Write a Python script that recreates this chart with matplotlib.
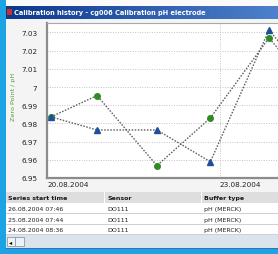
import matplotlib
matplotlib.use("Agg")
import matplotlib.pyplot as plt
import matplotlib.dates as mdates
from matplotlib.patches import Rectangle
import pandas as pd

W, H = 278, 255

# ---- data ----
times = ["2004-08-20 01:40", "2004-08-20 20:50", "2004-08-21 21:45",
         "2004-08-22 20:00", "2004-08-23 20:25", "2004-08-24 08:36"]
zero_point_tri = [6.9836, 6.9764, 6.9764, 6.9589, 7.0314, 7.012]
zero_point_circ = [6.9836, 6.9953, 6.9568, 6.9830, 7.0270, 7.008]
x_range = ["2004-08-20 00:00", "2004-08-24 00:09"]
x_ticks = ["2004-08-20", "2004-08-23"]
x_tick_labels = ["20.08.2004", "23.08.2004"]
y_ticks = [6.95, 6.96, 6.97, 6.98, 6.99, 7.00, 7.01, 7.02, 7.03]
y_tick_labels = ["6.95", "6.96", "6.97", "6.98", "6.99", "7", "7.01", "7.02", "7.03"]
y_range = [6.95, 7.0352]
title = "Calibration history - cg006 Calibration pH electrode"
ylabel = "Zero Point / pH"
table_cols = ["Series start time", "Sensor", "Buffer type"]
table_start = ["26.08.2004 07:46", "25.08.2004 07:44", "24.08.2004 08:36"]
table_sensor = ["DO111", "DO111", "DO111"]
table_buffer = ["pH (MERCK)", "pH (MERCK)", "pH (MERCK)"]

fig = plt.figure(figsize=(W / 100, H / 100), dpi=100)
fig.patch.set_facecolor("#f4f4f4")


def fx(x):
    return x / W


def fy(y):
    return 1 - y / H


def rect(x0, y0, x1, y1, color, z=0, **kw):
    fig.add_artist(Rectangle((fx(x0), fy(y1)), fx(x1) - fx(x0), fy(y0) - fy(y1),
                             transform=fig.transFigure, facecolor=color,
                             edgecolor=kw.pop("ec", "none"), lw=kw.pop("lw", 0),
                             zorder=z, **kw))


def text(x, y, s, size=5.5, color="black", weight="normal", ha="left", **kw):
    fig.text(fx(x), fy(y), s, fontsize=size, color=color, weight=weight,
             ha=ha, va="center", family="DejaVu Sans", **kw)


# window chrome
rect(0, 0, W, 7, "#fafafa", z=0)
rect(0, 0, 6, H, "#1ca3e3", z=5)
# title bar gradient
n = 60
for i in range(n):
    x0 = 6 + (W - 6) * i / n
    x1 = 6 + (W - 6) * (i + 1) / n + 0.5
    t = i / (n - 1)
    c = (0.05 + 0.25 * t, 0.22 + 0.28 * t, 0.55 + 0.25 * t)
    rect(x0, 7, x1, 20, c, z=1)
rect(7, 10, 12, 16, "#c83030", z=2)
text(13.5, 13.5, title, size=4.8, color="white", weight="bold")

# ---- chart ----
ax_left, ax_top, ax_bottom = 47, 24, 179
ax = fig.add_axes([fx(ax_left), fy(ax_bottom), 1 - fx(ax_left), fy(ax_top) - fy(ax_bottom)])
ax.set_facecolor("white")
t = pd.to_datetime(times)
ax.plot(t, zero_point_circ, linestyle=(0, (1.1, 1.1)), color="#5e5e5e", lw=1.0,
        marker="o", ms=4.0, mfc="#2f8a25", mec="#2f8a25", zorder=3, clip_on=True)
ax.plot(t, zero_point_tri, linestyle=(0, (1.1, 1.1)), color="#5e5e5e", lw=1.0,
        marker="^", ms=4.8, mfc="#1d4f9e", mec="#1d4f9e", zorder=4, clip_on=True)

ax.set_xlim(pd.to_datetime(x_range[0]), pd.to_datetime(x_range[1]))
ax.set_ylim(*y_range)
ax.set_xticks(pd.to_datetime(x_ticks))
ax.set_xticklabels(x_tick_labels, ha="left", fontsize=5.2, family="DejaVu Sans", color="#222222")
ax.set_yticks(y_ticks)
ax.set_yticklabels(y_tick_labels, fontsize=5.2, family="DejaVu Sans", color="#222222")
ax.tick_params(length=0)
ax.tick_params(axis="y", pad=7.0)
ax.tick_params(axis="x", pad=2.5)
ax.grid(True, linestyle=(0, (1.0, 1.5)), color="#c4c4c4", lw=0.7)
ax.spines["right"].set_visible(False)
ax.spines["left"].set_color("#8c8c8c")
ax.spines["left"].set_linewidth(1.6)
ax.spines["bottom"].set_color("#8c8c8c")
ax.spines["bottom"].set_linewidth(1.6)
ax.spines["top"].set_color("#a8a8a8")
ax.spines["top"].set_linewidth(0.8)
ax.set_ylabel(ylabel, fontsize=4.6, color="#5b9a35", family="DejaVu Sans")
ax.yaxis.set_label_coords(fx(16 - ax_left) / (1 - fx(ax_left)), 0.53)

# ---- table ----
col_x = [7, 106, 203]
rect(6, 193, W, 204, "#dedede", z=1)
for cx, cname in zip(col_x, table_cols):
    text(cx + 1, 198.5, cname, size=4.5, weight="bold", color="#1a1a1a")
for cx in col_x[1:]:
    rect(cx - 2, 193, cx - 1.5, 204, "#ffffff", z=2)
row_tops = [204, 215, 225]
for i, r in enumerate(row_tops):
    rect(6, r, W, r + 10.5, "white", z=1)
    rect(6, r + 10.3, W, r + 10.8, "#d0d0d0", z=2)
    text(col_x[0] + 1, r + 5.5, table_start[i], size=4.5, color="#222222")
    text(col_x[1] + 1, r + 5.5, table_sensor[i], size=4.5, color="#222222")
    text(col_x[2] + 1, r + 5.5, table_buffer[i], size=4.5, color="#222222")
# scrollbar
rect(6, 236, W, 249, "#dbe3ec", z=1)
rect(7, 238, 15, 247, "#f2f2f2", z=2, ec="#8a9ab0", lw=0.6)
rect(15, 238, 24, 247, "#eef1f5", z=2, ec="#8a9ab0", lw=0.6)
text(11, 242.5, "\u25c2", size=4.5, color="black", ha="center")
rect(0, 249, W, H, "#1ca3e3", z=5)
rect(6, 248.5, W, 250, "#3a6fb5", z=5)

fig.savefig("out.png", dpi=100, facecolor=fig.get_facecolor())
